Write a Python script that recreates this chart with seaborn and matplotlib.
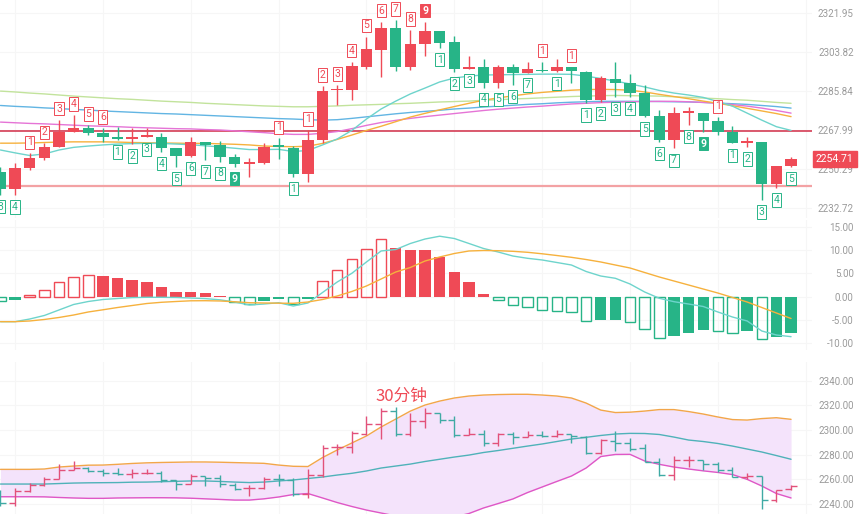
import matplotlib
matplotlib.use("Agg")
import matplotlib.pyplot as plt
import matplotlib.ticker as mticker
import numpy as np
import pandas as pd
import seaborn as sns

# ---- candle data (30 min bars) ----
opens = [2249.1, 2241.1, 2250.6, 2255.1, 2260.4, 2267.2, 2269.0, 2266.5, 2264.9, 2264.0,
         2264.9, 2264.9, 2259.6, 2256.3, 2262.4, 2261.1, 2255.6, 2252.7, 2252.9, 2260.5,
         2259.6, 2248.0, 2263.4, 2286.1, 2286.3, 2297.0, 2304.7, 2315.1, 2297.0, 2307.4,
         2313.7, 2308.3, 2296.0, 2297.0, 2289.6, 2297.0, 2294.0, 2295.7, 2295.0, 2297.0,
         2294.7, 2281.7, 2291.3, 2289.6, 2285.1, 2274.4, 2263.4, 2275.8, 2275.9, 2272.1,
         2267.2, 2262.2, 2262.6, 2243.5, 2251.8]
highs = [2251.3, 2253.1, 2257.4, 2261.9, 2272.6, 2274.8, 2270.3, 2268.8, 2269.5, 2268.8,
         2268.8, 2266.5, 2259.6, 2264.7, 2262.7, 2263.2, 2257.1, 2255.1, 2262.2, 2264.2,
         2260.8, 2268.0, 2288.1, 2288.6, 2299.3, 2311.0, 2317.9, 2318.7, 2314.0, 2317.9,
         2313.7, 2311.4, 2302.0, 2300.4, 2297.8, 2298.1, 2299.3, 2299.3, 2300.4, 2297.0,
         2295.1, 2292.8, 2299.3, 2293.5, 2288.6, 2277.1, 2278.7, 2278.7, 2275.9, 2273.8,
         2269.8, 2264.9, 2262.6, 2251.6, 2255.8]
lows = [2238.6, 2238.5, 2249.8, 2254.4, 2260.2, 2267.2, 2265.7, 2262.6, 2263.4, 2261.5,
        2264.6, 2258.1, 2251.3, 2255.9, 2254.4, 2253.6, 2251.3, 2246.8, 2252.5, 2254.7,
        2246.8, 2244.5, 2261.9, 2279.4, 2281.7, 2295.8, 2292.5, 2295.1, 2295.4, 2302.0,
        2305.8, 2294.7, 2296.0, 2287.4, 2287.4, 2288.6, 2294.0, 2294.7, 2294.7, 2289.4,
        2280.2, 2280.9, 2283.2, 2283.2, 2273.8, 2262.6, 2259.6, 2270.3, 2267.2, 2265.7,
        2261.9, 2260.2, 2236.3, 2241.6, 2251.3]
closes = [2241.1, 2250.6, 2255.1, 2260.1, 2267.2, 2269.0, 2266.5, 2264.9, 2264.0, 2264.9,
          2265.2, 2259.6, 2256.3, 2262.4, 2261.1, 2255.9, 2252.5, 2252.9, 2260.4, 2260.3,
          2248.0, 2263.4, 2285.8, 2286.5, 2297.3, 2305.2, 2315.1, 2297.0, 2307.4, 2313.7,
          2308.1, 2296.0, 2297.0, 2289.6, 2297.0, 2294.0, 2295.8, 2295.0, 2297.0, 2295.0,
          2281.7, 2292.0, 2289.4, 2284.8, 2274.4, 2263.4, 2275.6, 2276.0, 2272.1, 2267.2,
          2261.9, 2262.4, 2243.5, 2251.6, 2254.71]

# moving averages on the candle panel
ma_cyan = [2258.9, 2257.6, 2256.4, 2257.1, 2258.9, 2260.1, 2260.7, 2261.2, 2261.6, 2261.8,
           2261.9, 2261.9, 2261.6, 2261.3, 2260.8, 2260.3, 2259.7, 2259.1, 2259.1, 2259.2,
           2258.2, 2258.7, 2261.2, 2263.9, 2267.8, 2273.0, 2277.6, 2281.2, 2284.5, 2287.2,
           2290.0, 2291.8, 2292.7, 2293.2, 2293.3, 2293.4, 2293.5, 2293.6, 2293.6, 2293.5,
           2292.7, 2291.6, 2290.4, 2289.1, 2287.7, 2286.1, 2284.9, 2284.0, 2282.9, 2281.0,
           2278.9, 2275.7, 2272.5, 2269.5, 2267.8]
ma_orange = [2262.0, 2262.0, 2262.1, 2262.3, 2262.5, 2262.6, 2262.6, 2262.6, 2262.5, 2262.3,
             2262.2, 2262.1, 2262.0, 2261.9, 2261.9, 2261.7, 2261.5, 2261.2, 2260.7, 2260.5,
             2260.4, 2260.6, 2261.9, 2263.7, 2265.7, 2267.8, 2269.7, 2271.8, 2273.9, 2275.6,
             2277.2, 2278.7, 2280.2, 2281.6, 2282.7, 2283.6, 2284.5, 2285.2, 2285.7, 2286.2,
             2286.5, 2286.6, 2286.5, 2286.2, 2285.4, 2284.3, 2283.3, 2282.3, 2281.2, 2280.2,
             2279.1, 2277.9, 2276.7, 2275.5, 2274.1]
ma_green = [2285.8, 2285.4, 2284.9, 2284.5, 2284.0, 2283.5, 2283.1, 2282.7, 2282.3, 2282.0,
            2281.6, 2281.2, 2280.9, 2280.6, 2280.2, 2279.9, 2279.6, 2279.3, 2279.0, 2278.8,
            2278.6, 2278.6, 2278.8, 2279.0, 2279.3, 2279.5, 2279.7, 2280.0, 2280.2, 2280.5,
            2280.8, 2281.0, 2281.2, 2281.6, 2281.8, 2282.2, 2282.4, 2282.7, 2283.0, 2283.3,
            2283.5, 2283.7, 2283.8, 2283.7, 2283.6, 2283.5, 2283.2, 2282.9, 2282.6, 2282.3,
            2281.9, 2281.6, 2281.1, 2280.6, 2280.2]
ma_blue = [2279.2, 2278.8, 2278.5, 2278.1, 2277.8, 2277.4, 2277.1, 2276.7, 2276.4, 2276.1,
           2275.8, 2275.5, 2275.3, 2275.0, 2274.7, 2274.4, 2274.1, 2273.8, 2273.5, 2273.2,
           2273.0, 2272.7, 2272.5, 2272.7, 2273.3, 2274.0, 2274.7, 2275.4, 2276.0, 2276.5,
           2277.0, 2277.6, 2278.0, 2278.5, 2278.9, 2279.3, 2279.7, 2280.0, 2280.4, 2280.7,
           2280.9, 2281.1, 2281.1, 2281.1, 2281.1, 2281.0, 2280.9, 2280.8, 2280.6, 2280.3,
           2280.0, 2279.7, 2279.2, 2278.7, 2278.0]
ma_pink = [2271.6, 2271.3, 2271.0, 2270.8, 2270.5, 2270.2, 2269.9, 2269.7, 2269.5, 2269.2,
           2269.0, 2268.8, 2268.6, 2268.5, 2268.2, 2268.0, 2267.6, 2267.2, 2266.8, 2266.3,
           2266.0, 2266.0, 2266.5, 2267.3, 2268.6, 2270.1, 2271.4, 2272.4, 2273.3, 2274.1,
           2274.8, 2275.5, 2276.2, 2276.9, 2277.5, 2278.0, 2278.5, 2278.9, 2279.4, 2279.9,
           2280.2, 2280.5, 2280.7, 2280.9, 2281.0, 2281.1, 2281.1, 2280.9, 2280.6, 2280.2,
           2279.6, 2278.9, 2278.0, 2276.9, 2275.7]

# TD sequential counts (0 = no label)
td_sell = [0, 0, 1, 2, 3, 4, 5, 6, 0, 0, 0, 0, 0, 0, 0, 0, 0, 0, 0, 1,
           0, 1, 2, 3, 4, 5, 6, 7, 8, 9, 0, 0, 0, 0, 0, 0, 0, 1, 0, 1,
           0, 0, 0, 0, 0, 0, 0, 0, 0, 1, 0, 0, 0, 0, 0]
td_buy = [3, 4, 0, 0, 0, 0, 0, 0, 1, 2, 3, 4, 5, 6, 7, 8, 9, 0, 0, 0,
          1, 0, 0, 0, 0, 0, 0, 0, 0, 0, 1, 2, 3, 4, 5, 6, 7, 0, 1, 0,
          1, 2, 3, 4, 5, 6, 7, 8, 9, 0, 1, 2, 3, 4, 5]

resistance = 2267.5
support = 2242.7
last_price = 2254.71
price_ticks = [2232.72, 2250.29, 2267.99, 2285.84, 2303.82, 2321.95]

# MACD
macd_hist = [-0.85, -0.7, 0.3, 1.45, 3.1, 4.15, 4.65, 4.45, 3.95, 3.6,
             3.2, 2.0, 0.95, 0.95, 0.7, 0.15, -1.05, -1.55, -0.85, -0.5,
             -1.65, -0.4, 3.35, 5.7, 8.1, 10.15, 12.3, 10.4, 10.0, 10.0,
             8.6, 5.35, 3.2, 0.5, -0.7, -1.8, -2.3, -2.85, -3.0, -3.35,
             -5.2, -5.0, -4.95, -5.4, -7.0, -8.9, -8.35, -7.7, -7.15, -7.35,
             -7.7, -7.3, -9.1, -8.7, -7.7]
macd_dif = [-5.36, -5.36, -4.79, -4.03, -2.85, -1.67, -1.03, -0.60, -0.39, -0.19,
            -0.13, -0.13, -0.17, -0.28, -0.41, -0.67, -1.14, -1.78, -1.57, -1.29,
            -2.00, -1.35, 0.90, 3.15, 5.02, 7.45, 9.81, 10.13, 11.42, 12.38,
            12.98, 12.49, 11.42, 10.34, 9.59, 8.73, 8.24, 7.88, 7.34, 6.80,
            5.41, 4.44, 3.95, 2.73, 1.01, -0.34, -1.07, -1.57, -2.10, -3.28,
            -4.36, -5.21, -7.36, -8.22, -8.58]
macd_dea = [-5.36, -5.36, -5.21, -4.89, -4.46, -3.93, -3.28, -2.81, -2.32, -1.89,
            -1.46, -1.20, -1.03, -0.88, -0.86, -0.92, -1.09, -1.29, -1.35, -1.39,
            -1.42, -1.14, -0.60, 0.15, 1.12, 2.30, 3.80, 5.30, 6.27, 7.66,
            8.52, 9.27, 9.81, 9.91, 9.87, 9.74, 9.53, 9.21, 8.84, 8.45,
            7.98, 7.45, 6.80, 6.16, 5.19, 4.23, 3.37, 2.51, 1.65, 0.79,
            -0.17, -1.14, -2.32, -3.50, -4.68]
macd_ticks = [-10, -5, 0, 5, 10, 15]

# Bollinger bands
boll_upper = [2268.1, 2268.1, 2268.1, 2268.4, 2270.0, 2270.8, 2271.5, 2271.6, 2272.2, 2272.9,
              2273.4, 2273.7, 2273.9, 2274.1, 2274.1, 2273.9, 2273.6, 2273.3, 2273.0, 2271.6,
              2270.6, 2270.4, 2277.7, 2283.8, 2289.5, 2295.2, 2302.5, 2308.9, 2315.4, 2320.3,
              2323.5, 2326.0, 2327.6, 2328.4, 2328.8, 2329.0, 2329.0, 2328.4, 2327.6, 2326.0,
              2321.9, 2316.2, 2314.2, 2314.5, 2315.4, 2316.6, 2316.6, 2315.0, 2313.0, 2310.6,
              2308.5, 2308.1, 2309.3, 2310.0, 2308.7]
boll_mid = [2256.2, 2256.2, 2256.2, 2256.2, 2256.6, 2257.0, 2257.2, 2257.3, 2257.4, 2257.7,
            2257.8, 2258.1, 2258.4, 2258.7, 2258.7, 2258.3, 2257.8, 2257.4, 2257.8, 2258.7,
            2259.5, 2260.7, 2261.9, 2263.5, 2264.9, 2266.8, 2269.2, 2270.8, 2272.4, 2274.5,
            2276.3, 2278.1, 2279.7, 2281.8, 2283.4, 2285.2, 2287.0, 2288.7, 2290.7, 2292.7,
            2294.1, 2295.6, 2296.8, 2297.3, 2297.2, 2296.4, 2294.3, 2291.9, 2290.7, 2289.1,
            2287.0, 2284.6, 2282.2, 2279.3, 2276.3]
boll_lower = [2245.9, 2245.9, 2245.9, 2245.8, 2245.3, 2244.9, 2244.6, 2244.6, 2244.9, 2245.0,
              2245.1, 2245.1, 2245.0, 2244.7, 2244.2, 2243.7, 2243.2, 2243.2, 2244.2, 2245.7,
              2247.7, 2248.5, 2244.9, 2241.2, 2238.0, 2235.1, 2232.7, 2230.3, 2228.7, 2227.4,
              2227.8, 2229.5, 2232.3, 2236.8, 2240.4, 2244.1, 2249.3, 2253.8, 2258.3, 2262.7,
              2269.2, 2278.5, 2280.2, 2280.3, 2274.9, 2272.2, 2270.0, 2268.4, 2266.9, 2265.6,
              2263.9, 2260.0, 2254.6, 2248.5, 2244.9]
boll_ticks = [2240, 2260, 2280, 2300, 2320, 2340]

RED = "#ef4a56"
GREEN = "#27b487"
W, H = 860, 514
XLIM = (-0.03, 55.43)


def style_axis(ax, ticks):
    ax.set_yticks(ticks)
    ax.yaxis.set_major_formatter(mticker.FormatStrFormatter("%.2f"))
    ax.yaxis.set_minor_locator(mticker.NullLocator())
    ax.yaxis.set_minor_formatter(mticker.NullFormatter())
    ax.yaxis.tick_right()
    ax.tick_params(axis="y", length=0, pad=30, labelsize=7, labelcolor="#9a9a9a")
    plt.setp(ax.get_yticklabels(), ha="right")
    ax.set_xticks(np.arange(1, 56, 6))
    ax.tick_params(axis="x", length=0, labelbottom=False)
    ax.grid(True, color="#f6f6f6", lw=0.8)
    ax.set_axisbelow(True)
    for s in ax.spines.values():
        s.set_visible(False)
    ax.set_xlim(*XLIM)
    ax.set_xlabel("")
    ax.set_ylabel("")


def td_label(ax, x, y, n, color, above):
    filled = n == 9
    ax.annotate(str(n), (x, y), xytext=(0, 8 if above else -8.5), textcoords="offset points",
                ha="center", va="center", fontsize=7.5,
                color="white" if filled else color, fontweight="bold" if filled else "normal",
                bbox=dict(boxstyle="square,pad=0.16", fc=color if filled else "white",
                          ec=color, lw=0.7), zorder=6)


def main():
    sns.set_theme(style="white")
    plt.rcParams["font.family"] = ["Roboto", "DejaVu Sans"]

    idx = np.arange(len(closes))
    o, h, l, c = map(np.array, (opens, highs, lows, closes))
    up = c >= o
    cols = np.where(up, RED, GREEN)

    fig = plt.figure(figsize=(W / 100, H / 100), dpi=100)
    ax_k = fig.add_axes([0, 1 - 218 / H, 812 / W, 218 / H])
    ax_m = fig.add_axes([0, 1 - 350 / H, 812 / W, 130 / H])
    ax_b = fig.add_axes([0, 0, 812 / W, 152 / H])

    # ---- candle panel ----
    ax_k.set_yscale("log")
    ma_df = pd.DataFrame({"idx": idx, "green": ma_green, "blue": ma_blue, "pink": ma_pink,
                          "orange": ma_orange, "cyan": ma_cyan}).melt("idx", var_name="line", value_name="price")
    sns.lineplot(data=ma_df, x="idx", y="price", hue="line", ax=ax_k, legend=False, linewidth=1,
                 palette={"green": "#c2e39c", "blue": "#62b5e3", "pink": "#e574d6",
                          "orange": "#f6b13d", "cyan": "#6ed4cc"}, zorder=2)
    ax_k.axhline(resistance, color="#d12c47", lw=1.1, zorder=1.5)
    ax_k.axhline(support, color="#f3a2a4", lw=1.6, zorder=1.5)
    ax_k.vlines(idx, l, h, colors=cols, lw=1, zorder=3)
    ax_k.bar(idx, np.maximum(np.abs(c - o), 0.7), bottom=np.minimum(o, c), width=0.78,
             color=cols, linewidth=0, zorder=4)
    for i in idx:
        if td_sell[i]:
            td_label(ax_k, i, h[i], td_sell[i], RED, True)
        if td_buy[i]:
            td_label(ax_k, i, l[i], td_buy[i], GREEN, False)
    ax_k.set_ylim(2228.24, 2328.03)
    style_axis(ax_k, price_ticks)
    ax_k.text(1.028, last_price, f"{last_price:.2f}", transform=ax_k.get_yaxis_transform(),
              ha="center", va="center", color="white", fontsize=7.5, clip_on=False, zorder=10,
              bbox=dict(boxstyle="square,pad=0.3", fc=RED, ec=RED))

    # ---- MACD panel ----
    hist = np.array(macd_hist)
    prev = np.r_[np.nan, hist[:-1]]
    hollow = ~(np.sign(hist) == np.sign(prev)) | (np.abs(hist) > np.abs(prev))
    hcol = np.where(hist >= 0, RED, GREEN)
    ax_m.bar(idx[~hollow], hist[~hollow], width=0.78, color=hcol[~hollow], linewidth=0, zorder=2)
    ax_m.bar(idx[hollow], hist[hollow], width=0.72, facecolor="none", edgecolor=hcol[hollow],
             linewidth=1, zorder=2)
    macd_df = pd.DataFrame({"idx": idx, "DIF": macd_dif, "DEA": macd_dea}).melt(
        "idx", var_name="line", value_name="value")
    sns.lineplot(data=macd_df, x="idx", y="value", hue="line", ax=ax_m, legend=False, linewidth=1,
                 palette={"DIF": "#6ed4cc", "DEA": "#f6b13d"}, zorder=3)
    ax_m.set_ylim(-11.44, 16.46)
    style_axis(ax_m, macd_ticks)

    # ---- Bollinger panel ----
    ax_b.fill_between(idx, boll_lower, boll_upper, color="#f4e3fb", lw=0, zorder=1)
    boll_df = pd.DataFrame({"idx": idx, "upper": boll_upper, "mid": boll_mid,
                            "lower": boll_lower}).melt("idx", var_name="band", value_name="price")
    sns.lineplot(data=boll_df, x="idx", y="price", hue="band", ax=ax_b, legend=False, linewidth=1,
                 palette={"upper": "#f2a64a", "mid": "#4fb2b9", "lower": "#df57c6"}, zorder=2)
    bcols = np.where(up, "#e2517a", "#3faaa4")
    ax_b.vlines(idx, l, h, colors=bcols, lw=1, zorder=4)
    ax_b.hlines(o, idx - 0.4, idx, colors=bcols, lw=1, zorder=4)
    ax_b.hlines(c, idx, idx + 0.4, colors=bcols, lw=1, zorder=4)
    ax_b.text(27.4, 2327.6, "30分钟", color=RED, fontsize=12, ha="center", va="center",
              family=["Noto Sans CJK SC", "DejaVu Sans"], zorder=6)
    ax_b.set_ylim(2231.9, 2355.2)
    style_axis(ax_b, boll_ticks)

    fig.savefig("out.png", dpi=100)


if __name__ == "__main__":
    main()
